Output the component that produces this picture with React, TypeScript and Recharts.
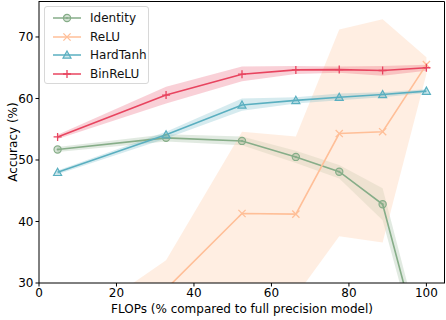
import React from 'react';
import {
  ComposedChart,
  Line,
  Area,
  XAxis,
  YAxis,
} from 'recharts';

const flops = [4.8, 32.8, 52.4, 66.3, 77.5, 88.7, 100];

const identity = [51.7, 53.6, 53.1, 50.5, 48.1, 42.8, 16];
const identityLow = [51.3, 53.0, 52.4, 49.5, 47.0, 40.2, 14];
const identityHigh = [52.1, 54.2, 53.8, 51.5, 49.2, 45.4, 18];

const relu = [20, 29, 41.3, 41.2, 54.3, 54.6, 65.5];
const reluLow = [15, 24, 22, 27.9, 37.6, 36.6, 64.0];
const reluHigh = [21.5, 33.7, 54.6, 53.8, 71.2, 72.9, 66.7];

const hardtanh = [48.0, 54.1, 58.95, 59.7, 60.2, 60.65, 61.2];
const hardtanhLow = [47.7, 53.5, 58.0, 59.2, 59.7, 60.2, 60.9];
const hardtanhHigh = [48.3, 54.6, 60.0, 60.2, 60.8, 61.0, 61.5];

const binrelu = [53.75, 60.55, 63.95, 64.65, 64.7, 64.55, 65.0];
const binreluLow = [53.4, 59.2, 62.8, 64.0, 64.2, 63.7, 64.5];
const binreluHigh = [54.1, 61.9, 65.2, 65.3, 65.2, 65.3, 65.5];

const xTicks = [0, 20, 40, 60, 80, 100];
const yTicks = [30, 40, 50, 60, 70];

const data = flops.map((x, i) => ({
  x,
  identity: identity[i],
  identityBand: [identityLow[i], identityHigh[i]],
  relu: relu[i],
  reluBand: [reluLow[i], reluHigh[i]],
  hardtanh: hardtanh[i],
  hardtanhBand: [hardtanhLow[i], hardtanhHigh[i]],
  binrelu: binrelu[i],
  binreluBand: [binreluLow[i], binreluHigh[i]],
}));

const COLORS = {
  identity: '#86ad88',
  relu: '#ffbf98',
  hardtanh: '#5aafc0',
  binrelu: '#e8445f',
};

const FONT = '"DejaVu Sans", sans-serif';

type Shape = 'circle' | 'x' | 'triangle' | 'plus';

function Marker({ cx, cy, shape, color }: { cx: number; cy: number; shape: Shape; color: string }) {
  if (cx == null || cy == null) return null;
  if (shape === 'circle') {
    return (
      <g>
        <circle cx={cx} cy={cy} r={3.6} fill={color} fillOpacity={0.35} stroke={color} strokeWidth={1.2} />
        <circle cx={cx} cy={cy} r={1} fill={color} />
      </g>
    );
  }
  if (shape === 'x') {
    const s = 3.6;
    return (
      <path
        d={`M${cx - s},${cy - s}L${cx + s},${cy + s}M${cx - s},${cy + s}L${cx + s},${cy - s}`}
        stroke={color}
        strokeWidth={1.3}
      />
    );
  }
  if (shape === 'triangle') {
    const s = 4;
    return (
      <path
        d={`M${cx},${cy - s}L${cx + s},${cy + s * 0.8}L${cx - s},${cy + s * 0.8}Z`}
        fill={color}
        fillOpacity={0.3}
        stroke={color}
        strokeWidth={1.2}
      />
    );
  }
  const s = 4;
  return (
    <path d={`M${cx - s},${cy}L${cx + s},${cy}M${cx},${cy - s}L${cx},${cy + s}`} stroke={color} strokeWidth={1.3} />
  );
}

const series: { key: string; name: string; shape: Shape; color: string }[] = [
  { key: 'identity', name: 'Identity', shape: 'circle', color: COLORS.identity },
  { key: 'relu', name: 'ReLU', shape: 'x', color: COLORS.relu },
  { key: 'hardtanh', name: 'HardTanh', shape: 'triangle', color: COLORS.hardtanh },
  { key: 'binrelu', name: 'BinReLU', shape: 'plus', color: COLORS.binrelu },
];

function LegendBox() {
  return (
    <div
      style={{
        position: 'absolute',
        left: 44,
        top: 6,
        width: 105,
        height: 78,
        border: '1px solid #d8d8d8',
        borderRadius: 3,
        background: 'rgba(255,255,255,0.85)',
        boxSizing: 'border-box',
        paddingTop: 2,
        fontFamily: FONT,
        fontSize: 12,
      }}
    >
      {series.map((s) => (
        <div key={s.key} style={{ display: 'flex', alignItems: 'center', height: 18.5 }}>
          <svg width={40} height={14} style={{ marginLeft: 4 }}>
            <line x1={4} y1={7} x2={32} y2={7} stroke={s.color} strokeWidth={1.5} />
            <Marker cx={18} cy={7} shape={s.shape} color={s.color} />
          </svg>
          <span style={{ marginLeft: 1, color: '#111' }}>{s.name}</span>
        </div>
      ))}
    </div>
  );
}

const tickStyle = { fontSize: 12, fill: '#000', fontFamily: FONT };

export default function App() {
  return (
    <div style={{ position: 'absolute', left: 0, top: 0, width: 446, height: 320, background: '#fff' }}>
      <ComposedChart width={446} height={320} data={data} margin={{ top: 1, right: 1, bottom: 0, left: 0 }}>
        <XAxis
          dataKey="x"
          type="number"
          domain={[0, 104.8]}
          ticks={xTicks}
          allowDataOverflow
          height={37}
          tick={tickStyle}
          tickSize={3.5}
          tickMargin={2}
          stroke="#000"
          label={{ value: 'FLOPs (% compared to full precision model)', position: 'insideBottom', offset: 7, style: { fontSize: 12, fill: '#000', fontFamily: FONT } }}
        />
        <YAxis
          type="number"
          domain={[30, 75.85]}
          ticks={yTicks}
          allowDataOverflow
          width={39}
          tick={tickStyle}
          tickSize={3.5}
          tickMargin={2}
          stroke="#000"
          label={{ value: 'Accuracy (%)', angle: -90, position: 'center', dx: -7, style: { fontSize: 12, fill: '#000', fontFamily: FONT, textAnchor: 'middle' } }}
        />
        {series.map((s) => (
          <Area
            key={s.key + 'Band'}
            dataKey={s.key + 'Band'}
            type="linear"
            stroke="none"
            fill={s.key === 'relu' ? '#ffd9bf' : s.color}
            fillOpacity={s.key === 'relu' ? 0.45 : 0.25}
            isAnimationActive={false}
            legendType="none"
            activeDot={false}
          />
        ))}
        {series.map((s) => (
          <Line
            key={s.key}
            dataKey={s.key}
            name={s.name}
            type="linear"
            stroke={s.color}
            strokeWidth={1.6}
            dot={(p: any) => <Marker key={p.index} cx={p.cx} cy={p.cy} shape={s.shape} color={s.color} />}
            activeDot={false}
            isAnimationActive={false}
          />
        ))}
      </ComposedChart>
      {/* top/right spines of the plot frame */}
      <svg width={446} height={320} style={{ position: 'absolute', left: 0, top: 0, pointerEvents: 'none' }}>
        <path d="M39,1.5H444.5V283" stroke="#000" strokeWidth={1} fill="none" />
      </svg>
      <LegendBox />
    </div>
  );
}
